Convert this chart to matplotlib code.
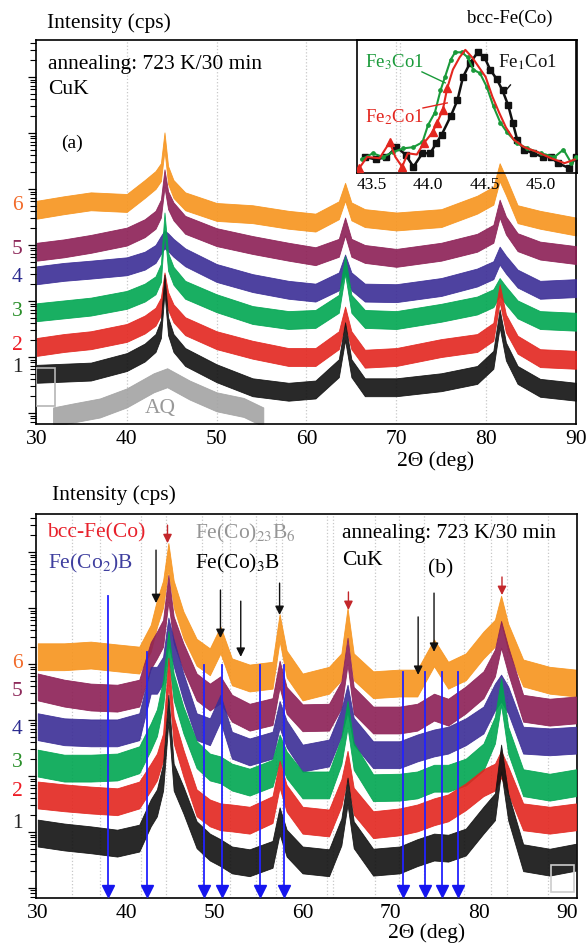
import numpy as np
import matplotlib
matplotlib.use("Agg")
import matplotlib.pyplot as plt
import matplotlib.transforms as mtransforms
from matplotlib.ticker import LogLocator, NullFormatter
from matplotlib.patches import Rectangle

plt.rcParams['font.family'] = ['Liberation Serif', 'DejaVu Serif']
plt.rcParams['mathtext.fontset'] = 'stix'

# ---------------- data: panel (a) ----------------
a_two_theta = [30, 33, 36, 40, 42, 43.2, 43.8, 44.2, 44.6, 45.2, 46.5, 50, 54, 58, 61,
               63.6, 64.3, 65.0, 66.5, 70, 75, 79, 80.8, 81.5, 82.2, 83.5, 86, 90]
# log10 of intensity (cps)
a_log_6 = [3.63, 3.71, 3.78, 3.75, 4.00, 4.16, 4.30, 4.85, 4.25, 4.00, 3.78, 3.59, 3.55, 3.45,
           3.40, 3.62, 3.95, 3.60, 3.48, 3.42, 3.48, 3.72, 3.88, 4.30, 4.05, 3.55, 3.45, 3.33]
a_log_5 = [2.88, 2.94, 3.02, 3.15, 3.30, 3.45, 3.65, 4.19, 3.80, 3.60, 3.36, 3.14, 3.00, 2.88,
           2.80, 2.95, 3.33, 2.95, 2.84, 2.77, 2.88, 3.04, 3.20, 3.65, 3.35, 3.05, 2.90, 2.82]
a_log_4 = [2.46, 2.52, 2.56, 2.62, 2.72, 2.84, 3.00, 3.10, 3.05, 2.95, 2.78, 2.50, 2.32, 2.20,
           2.15, 2.35, 2.67, 2.35, 2.15, 2.14, 2.25, 2.42, 2.55, 2.81, 2.65, 2.40, 2.20, 2.23]
a_log_3 = [1.80, 1.85, 1.90, 2.02, 2.15, 2.28, 2.50, 3.42, 2.70, 2.45, 2.20, 1.96, 1.75, 1.66,
           1.68, 1.95, 2.64, 1.95, 1.68, 1.66, 1.79, 1.92, 2.05, 2.25, 2.10, 1.85, 1.66, 1.63]
a_log_2 = [1.18, 1.25, 1.30, 1.43, 1.58, 1.72, 1.90, 2.35, 2.00, 1.78, 1.55, 1.30, 1.13, 1.00,
           1.00, 1.30, 1.74, 1.30, 0.97, 1.00, 1.16, 1.25, 1.45, 2.14, 1.60, 1.22, 0.98, 0.95]
a_log_1 = [0.70, 0.72, 0.74, 0.91, 1.08, 1.25, 1.50, 2.31, 1.55, 1.25, 1.00, 0.71, 0.46, 0.38,
           0.42, 0.80, 1.46, 0.80, 0.46, 0.46, 0.55, 0.68, 0.95, 1.69, 1.10, 0.68, 0.45, 0.38]
aq_two_theta = [31.8, 34, 37, 40, 43, 44.5, 47, 50, 53, 55.2]
aq_log = [-0.07, 0.0, 0.09, 0.27, 0.54, 0.63, 0.41, 0.20, 0.10, -0.07]

# inset (normalised intensity)
ins_fe1co1_x = [43.44, 43.54, 43.63, 43.72, 43.80, 43.87, 43.95, 44.02, 44.07, 44.12, 44.20,
                44.26, 44.31, 44.37, 44.44, 44.50, 44.55, 44.61, 44.66, 44.71, 44.75, 44.79,
                44.85, 44.93, 45.02, 45.09, 45.15, 45.25, 45.31]
ins_fe1co1_y = [0.13, 0.11, 0.13, 0.21, 0.15, 0.05, 0.16, 0.16, 0.24, 0.31, 0.46, 0.59, 0.78,
                0.89, 0.98, 0.94, 0.84, 0.76, 0.67, 0.55, 0.41, 0.27, 0.19, 0.16, 0.13, 0.13,
                0.08, 0.04, 0.13]
ins_fe2co1_x = [43.39, 43.46, 43.57, 43.66, 43.71, 43.77, 43.82, 43.90, 43.96, 44.04, 44.08,
                44.13, 44.17, 44.22, 44.28, 44.33, 44.39, 44.45, 44.51, 44.57, 44.63, 44.69,
                44.76, 44.85, 44.97, 45.09, 45.21, 45.30]
ins_fe2co1_y = [0.04, 0.13, 0.12, 0.25, 0.13, 0.05, 0.16, 0.15, 0.24, 0.33, 0.41, 0.51, 0.69,
                0.84, 0.94, 1.00, 0.94, 0.86, 0.78, 0.62, 0.49, 0.37, 0.27, 0.21, 0.17, 0.12,
                0.08, 0.11]
ins_fe3co1_x = [43.41, 43.51, 43.60, 43.69, 43.78, 43.87, 43.95, 44.00, 44.06, 44.11, 44.15,
                44.20, 44.24, 44.30, 44.35, 44.40, 44.46, 44.52, 44.58, 44.64, 44.70, 44.79,
                44.88, 45.00, 45.12, 45.20, 45.27, 45.31]
ins_fe3co1_y = [0.11, 0.16, 0.13, 0.17, 0.20, 0.21, 0.25, 0.39, 0.49, 0.67, 0.78, 0.92, 0.98,
                0.98, 0.94, 0.84, 0.81, 0.70, 0.54, 0.41, 0.33, 0.24, 0.20, 0.16, 0.13, 0.19,
                0.08, 0.13]

# ---------------- data: panel (b) ----------------
b_two_theta = [30, 33, 36, 39, 41.5, 42.8, 43.5, 44.2, 44.8, 45.4, 46.5, 48, 49.5, 50.7, 52,
               54, 56.6, 57.4, 58.2, 60, 63, 64.4, 65.1, 65.8, 68, 71, 73, 74.9, 76.5, 78.5,
               80.5, 81.8, 82.5, 83.3, 85, 88, 91]
b_log_6 = [4.13, 4.13, 4.16, 4.11, 4.07, 4.46, 4.90, 5.25, 5.92, 5.25, 4.70, 4.21, 4.04, 4.43,
           3.86, 3.75, 3.80, 4.65, 4.00, 3.59, 3.71, 3.95, 4.76, 3.95, 3.63, 3.66, 3.66, 4.20,
           3.80, 3.95, 4.34, 4.55, 4.98, 4.48, 3.84, 3.71, 3.66]
b_log_5 = [3.59, 3.48, 3.41, 3.39, 3.48, 4.15, 4.34, 4.55, 5.35, 4.61, 4.13, 3.59, 3.41, 3.54,
           3.21, 3.05, 3.15, 3.82, 3.35, 3.04, 3.05, 3.45, 4.23, 3.35, 3.00, 3.00, 3.05, 3.23,
           3.14, 3.36, 3.63, 4.02, 4.53, 4.07, 3.21, 3.14, 3.18]
b_log_4 = [2.88, 2.79, 2.77, 2.77, 2.88, 3.71, 3.71, 3.89, 4.59, 4.20, 3.59, 2.88, 2.79, 3.21,
           2.55, 2.43, 2.55, 3.10, 2.75, 2.32, 2.41, 2.95, 3.39, 2.80, 2.38, 2.38, 2.50, 2.59,
           2.64, 2.79, 3.00, 3.41, 3.57, 3.36, 2.64, 2.61, 2.64]
b_log_3 = [2.23, 2.14, 2.14, 2.16, 2.29, 2.70, 2.95, 3.48, 4.35, 3.59, 3.00, 2.38, 2.16, 2.11,
           1.98, 1.89, 2.05, 2.50, 2.20, 1.84, 1.84, 2.45, 3.10, 2.35, 1.79, 1.80, 1.84, 1.96,
           1.96, 2.07, 2.34, 2.82, 3.51, 2.64, 1.88, 1.80, 1.88]
b_log_2 = [1.66, 1.61, 1.57, 1.54, 1.66, 1.98, 2.16, 2.52, 3.87, 2.82, 2.23, 1.52, 1.34, 1.27,
           1.25, 1.21, 1.40, 2.03, 1.60, 1.21, 1.16, 1.70, 2.21, 1.55, 1.13, 1.18, 1.25, 1.36,
           1.43, 1.63, 1.88, 1.98, 2.21, 1.93, 1.27, 1.21, 1.27]
b_log_1 = [0.98, 0.91, 0.86, 0.80, 0.89, 1.34, 1.52, 1.98, 3.21, 1.98, 1.57, 0.95, 0.73, 0.63,
           0.50, 0.45, 0.60, 1.20, 0.80, 0.50, 0.45, 1.00, 1.73, 0.95, 0.46, 0.50, 0.63, 0.73,
           0.71, 0.82, 1.21, 1.45, 2.32, 1.45, 0.54, 0.46, 0.55]

# phase markers (2theta, deg)
bcc_peaks = [44.7, 65.2, 82.6]
fe3b_peaks = [43.4, 50.7, 53.0, 57.4, 73.1, 74.9]
fe2b_peaks = [38.0, 42.4, 48.8, 50.9, 55.2, 57.9, 71.4, 73.9, 75.8, 77.6]
ref_lines_b = [33.9, 37.0, 41.7, 44.5, 48.6, 50.9, 51.8, 54.7, 57.0, 57.7, 62.8, 63.4,
               68.2, 70.9, 73.8, 78.3, 81.3, 83.2, 87.8]

sample_labels = ['6', '5', '4', '3', '2', '1']

# ---------------- style ----------------
col_series = {'6': '#f7941d', '5': '#8c1f55', '4': '#3b2d96', '3': '#00a651',
              '2': '#e3261f', '1': '#111111'}
col_label = {'6': '#f26b2a', '5': '#8e2a5b', '4': '#2b2b90', '3': '#2a8f2a',
             '2': '#ee1c25', '1': '#222222'}

W, H = 587, 946
fig = plt.figure(figsize=(W / 100, H / 100), dpi=100)


def fx(px):
    return px / W


def fy(py):
    return 1 - py / H


def band(ax, x, L, w, color, z):
    L = np.asarray(L, dtype=float)
    ax.fill_between(x, 10 ** (L - w), 10 ** (L + w), color=color, lw=0.6, ec=color,
                    alpha=0.9, zorder=z)


def style_axis(ax, ylog):
    ax.set_yscale('log')
    ax.set_ylim(10 ** ylog[0], 10 ** ylog[1])
    ax.yaxis.set_major_locator(LogLocator(base=10, numticks=30))
    ax.yaxis.set_minor_locator(LogLocator(base=10, subs=np.arange(2, 10), numticks=30))
    ax.yaxis.set_major_formatter(NullFormatter())
    ax.yaxis.set_minor_formatter(NullFormatter())
    ax.tick_params(axis='y', which='major', direction='out', length=6, width=0.9)
    ax.tick_params(axis='y', which='minor', direction='out', length=4.5, width=0.8)
    ax.tick_params(axis='x', which='both', length=0, labelsize=15.5, pad=4)
    ax.set_xticks([30, 40, 50, 60, 70, 80, 90])
    for s in ax.spines.values():
        s.set_linewidth(1.2)


# ---------------- panel (a) ----------------
axa = fig.add_axes([fx(36), fy(424), fx(576 - 36), (424 - 40) / H])
style_axis(axa, (-0.196, 6.66))
axa.set_xlim(29.9, 90.0)
for g in [40, 50, 60, 70, 80]:
    axa.axvline(g, color='#c8c8c8', ls=':', lw=0.9, zorder=0)

band(axa, aq_two_theta, aq_log, 0.17, '#a3a3a3', 1)
a_series = {'6': a_log_6, '5': a_log_5, '4': a_log_4, '3': a_log_3, '2': a_log_2, '1': a_log_1}
for i, k in enumerate(sample_labels):
    band(axa, a_two_theta, a_series[k], 0.16, col_series[k], 2 + i)

blend_a = mtransforms.blended_transform_factory(axa.transData, axa.transAxes)
axa.add_patch(Rectangle((29.9, 0.047), 2.1, 0.099, transform=blend_a, fill=False,
                        ec='#b5b5b5', lw=1.2, zorder=20))

fig.text(fx(47), fy(23), 'Intensity (cps)', fontsize=15.5, va='center', ha='left')
fig.text(fx(48), fy(65), 'annealing: 723 K/30 min', fontsize=15.5, va='center', ha='left')
fig.text(fx(48), fy(90), 'CuK', fontsize=15.5, va='center', ha='left')
fig.text(fx(61), fy(143), '(a)', fontsize=14, va='center', ha='left')
fig.text(fx(160), fy(408), 'AQ', fontsize=15.5, va='center', ha='center', color='#999999')
fig.text(fx(510), fy(18), 'bcc-Fe(Co)', fontsize=13.5, va='center', ha='center')
fig.text(fx(436), fy(461), '2Θ (deg)', fontsize=15.5, va='center', ha='center')

for k, py in zip(sample_labels, [205, 250, 278, 312, 345, 368]):
    fig.text(fx(17), fy(py), k, fontsize=15.5, color=col_label[k], va='center', ha='center')

# inset
axi = fig.add_axes([fx(357), fy(173), fx(577 - 357), (173 - 40) / H])
axi.set_facecolor('none')
axi.set_xlim(43.37, 45.32)
axi.set_ylim(0, 1.08)
axi.set_yticks([])
axi.set_xticks([43.5, 44.0, 44.5, 45.0])
axi.set_xticklabels(['43.5', '44.0', '44.5', '45.0'])
axi.tick_params(axis='x', length=0, labelsize=12.5, pad=3)
for s in axi.spines.values():
    s.set_linewidth(1.2)
axi.axvline(43.75, color='#c8c8c8', ls=':', lw=0.9, zorder=0)
axi.plot(ins_fe1co1_x, ins_fe1co1_y, color='#111111', lw=1.8, marker='s', ms=4.2, zorder=3)
axi.plot(ins_fe3co1_x, ins_fe3co1_y, color='#1a9a3a', lw=1.5, marker='o', ms=2.4, zorder=4)
axi.plot(ins_fe2co1_x, ins_fe2co1_y, color='#e3261f', lw=1.5, marker='^', ms=5.5,
         markevery=[0, 3, 5, 8, 9, 10, 11, 12], zorder=5)
axi.text(43.44, 0.90, 'Fe$_3$Co1', color='#1a9a3a', fontsize=13.5, va='center', ha='left')
axi.text(43.44, 0.45, 'Fe$_2$Co1', color='#e3261f', fontsize=13.5, va='center', ha='left')
axi.text(44.62, 0.90, 'Fe$_1$Co1', color='#111111', fontsize=13.5, va='center', ha='left')
axi.plot([43.946, 44.152], [0.821, 0.732], color='#1a9a3a', lw=1.0, zorder=6)
axi.plot([43.955, 44.170], [0.528, 0.569], color='#e3261f', lw=1.0, zorder=6)
axi.plot([44.73, 44.67], [0.715, 0.65], color='#111111', lw=1.0, zorder=6)

# ---------------- panel (b) ----------------
axb = fig.add_axes([fx(36), fy(898), fx(577 - 36), (898 - 514) / H])
style_axis(axb, (-0.18, 6.68))
axb.set_xlim(29.8, 91.1)
for g in ref_lines_b:
    axb.axvline(g, color='#c8c8c8', ls=':', lw=0.9, zorder=0)

b_series = {'6': b_log_6, '5': b_log_5, '4': b_log_4, '3': b_log_3, '2': b_log_2, '1': b_log_1}
for i, k in enumerate(sample_labels):
    band(axb, b_two_theta, b_series[k], 0.24, col_series[k], 2 + i)

blend_b = mtransforms.blended_transform_factory(axb.transData, axb.transAxes)
blue_tops = [0.786, 0.641, 0.607, 0.607, 0.607, 0.607, 0.589, 0.589, 0.589, 0.589]
for p, t in zip(fe2b_peaks, blue_tops):
    axb.plot([p, p], [0.03, t], transform=blend_b, color='#2222ff', lw=1.3, zorder=15)
    axb.plot([p], [0.018], transform=blend_b, marker='v', ms=9, color='#1515ee',
             mec='#1515ee', zorder=16, clip_on=False)

black_spans = [(0.906, 0.768), (0.802, 0.677), (0.773, 0.628), (0.820, 0.737),
               (0.732, 0.581), (0.794, 0.641)]
for p, (t, b) in zip(fe3b_peaks, black_spans):
    axb.annotate('', xy=(p, b), xytext=(p, t), xycoords=blend_b, textcoords=blend_b,
                 arrowprops=dict(arrowstyle='-|>', color='#111111', lw=1.0,
                                 mutation_scale=13, shrinkA=0, shrinkB=0), zorder=17)

red_spans = [(0.971, 0.924), (0.797, 0.750), (0.836, 0.789)]
for p, (t, b) in zip(bcc_peaks, red_spans):
    axb.annotate('', xy=(p, b), xytext=(p, t), xycoords=blend_b, textcoords=blend_b,
                 arrowprops=dict(arrowstyle='-|>', color='#c3262a', lw=1.0,
                                 mutation_scale=13, shrinkA=0, shrinkB=0), zorder=17)

axb.add_patch(Rectangle((88.1, 0.016), 2.7, 0.07, transform=blend_b, fill=False,
                        ec='#cccccc', lw=1.2, zorder=20))

fig.text(fx(52), fy(495), 'Intensity (cps)', fontsize=15.5, va='center', ha='left')
fig.text(fx(47), fy(533), 'bcc-Fe(Co)', fontsize=15.5, va='center', ha='left', color='#e8212b')
fig.text(fx(48), fy(563), 'Fe(Co$_2$)B', fontsize=15.5, va='center', ha='left', color='#3f3f9f')
fig.text(fx(195), fy(533), 'Fe(Co)$_{23}$B$_6$', fontsize=15.5, va='center', ha='left',
         color='#959595')
fig.text(fx(195), fy(563), 'Fe(Co)$_3$B', fontsize=15.5, va='center', ha='left')
fig.text(fx(342), fy(533), 'annealing: 723 K/30 min', fontsize=15.5, va='center', ha='left')
fig.text(fx(342), fy(560), 'CuK', fontsize=15.5, va='center', ha='left')
fig.text(fx(428), fy(569), '(b)', fontsize=15.5, va='center', ha='left')
fig.text(fx(427), fy(933), '2Θ (deg)', fontsize=15.5, va='center', ha='center')

for k, py in zip(sample_labels, [663, 692, 729, 762, 791, 823]):
    fig.text(fx(17), fy(py), k, fontsize=15.5, color=col_label[k], va='center', ha='center')

fig.savefig('out.png', dpi=100)
